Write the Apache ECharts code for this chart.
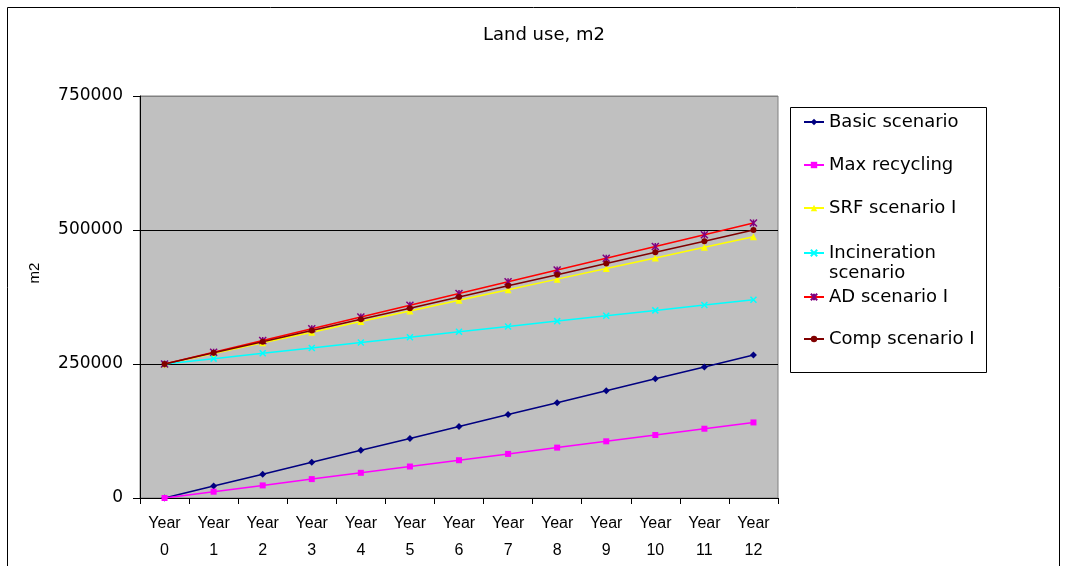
<!DOCTYPE html>
<html>
<head>
<meta charset="utf-8">
<script src="https://cdn.jsdelivr.net/npm/echarts@6/dist/echarts.min.js"></script>
<style>
  html, body { margin: 0; padding: 0; background: #fff; }
  #chart { width: 1068px; height: 566px; }
</style>
</head>
<body>
<div id="chart"></div>
<script>
// Land use per scenario, m2, over a 12-year horizon
const years = ['Year 0', 'Year 1', 'Year 2', 'Year 3', 'Year 4', 'Year 5', 'Year 6',
               'Year 7', 'Year 8', 'Year 9', 'Year 10', 'Year 11', 'Year 12'];

const basicScenario = [0, 22230, 44460, 66690, 88920, 111150, 133380, 155610, 177840, 200070, 222300, 244530, 266760];
const maxRecycling = [0, 11750, 23500, 35250, 47000, 58750, 70500, 82250, 94000, 105750, 117500, 129250, 141000];
const srfScenarioI = [250000, 269790, 289580, 309370, 329170, 348960, 368750, 388540, 408330, 428120, 447920, 467710, 487500];
const incinerationScenario = [250000, 260000, 270000, 280000, 290000, 300000, 310000, 320000, 330000, 340000, 350000, 360000, 370000];
const adScenarioI = [250000, 271920, 293830, 315750, 337670, 359580, 381500, 403420, 425330, 447250, 469170, 491080, 513000];
const compScenarioI = [250000, 270830, 291670, 312500, 333330, 354170, 375000, 395830, 416670, 437500, 458330, 479170, 500000];

const yTicks = [0, 250000, 500000, 750000];

const seriesNames = ['Basic scenario', 'Max recycling', 'SRF scenario I',
                     'Incineration scenario', 'AD scenario I', 'Comp scenario I'];

// marker shapes
const crossPath = 'path://M0,0L10,10M10,0L0,10';
const starPath = 'path://M0,0L10,10M10,0L0,10M5,0L5,10';

const styles = [
  { data: basicScenario, line: '#000080', marker: '#000080', symbol: 'diamond', size: 7, stroke: false },
  { data: maxRecycling, line: '#FF00FF', marker: '#FF00FF', symbol: 'rect', size: 6, stroke: false },
  { data: srfScenarioI, line: '#FFFF00', marker: '#FFFF00', symbol: 'triangle', size: 7, stroke: false },
  { data: incinerationScenario, line: '#00FFFF', marker: '#00FFFF', symbol: crossPath, size: 6, stroke: true },
  { data: adScenarioI, line: '#FF0000', marker: '#800080', symbol: starPath, size: 7, stroke: true },
  { data: compScenarioI, line: '#800000', marker: '#800000', symbol: 'circle', size: 6, stroke: false }
];

const series = styles.map((s, i) => ({
  name: seriesNames[i],
  type: 'line',
  data: s.data,
  symbol: s.symbol,
  symbolSize: s.size,
  showAllSymbol: true,
  lineStyle: { color: s.line, width: 1.5 },
  itemStyle: s.stroke
    ? { color: s.marker, borderColor: s.marker, borderWidth: 1.5 }
    : { color: s.marker, borderWidth: 0 },
  emphasis: { disabled: true },
  z: 3 + i
}));

// one legend entry per series, stacked inside the legend frame
const legendCenters = [122, 165, 208, 253, 297, 339];
const legends = seriesNames.map((name, i) => {
  const twoLine = name === 'Incineration scenario';
  return {
    show: true,
    orient: 'vertical',
    left: 803,
    // a blank first line keeps the marker level with "Incineration"
    top: twoLine ? legendCenters[i] - 30 : legendCenters[i] - 10,
    padding: 0,
    itemWidth: 20,
    itemHeight: 8,
    selectedMode: false,
    data: [name],
    formatter: twoLine ? '\u00a0\nIncineration\nscenario' : '{name}',
    textStyle: {
      fontFamily: 'DejaVu Sans',
      fontSize: 18,
      lineHeight: 20,
      color: '#000'
    }
  };
});

const chart = echarts.init(document.getElementById('chart'), null, { renderer: 'canvas' });

chart.setOption({
  animation: false,
  backgroundColor: '#fff',
  title: {
    text: 'Land use, m2',
    left: 483,
    top: 24,
    padding: 0,
    textStyle: { fontFamily: 'DejaVu Sans', fontSize: 18, lineHeight: 22, fontWeight: 'normal', color: '#000' }
  },
  legend: legends,
  grid: {
    left: 140, top: 96, width: 638, height: 402,
    show: true, backgroundColor: '#C0C0C0', borderColor: '#808080', borderWidth: 1
  },
  xAxis: {
    type: 'category',
    data: years,
    boundaryGap: true,
    axisLine: { lineStyle: { color: '#000', width: 1 } },
    axisTick: { show: true, length: 6, inside: false, lineStyle: { color: '#000' } },
    splitLine: { show: false },
    axisLabel: {
      interval: 0,
      margin: 12,
      fontFamily: 'Liberation Sans',
      fontSize: 16,
      lineHeight: 27,
      color: '#000',
      formatter: v => v.replace(' ', '\n')
    }
  },
  yAxis: {
    type: 'value',
    min: yTicks[0],
    max: yTicks[yTicks.length - 1],
    interval: yTicks[1] - yTicks[0],
    axisLine: { show: true, lineStyle: { color: '#000', width: 1 } },
    axisTick: { show: true, length: 7, lineStyle: { color: '#000' } },
    splitLine: { show: true, lineStyle: { color: ['#000', '#000', '#000', '#808080'], width: 1 } },
    axisLabel: {
      margin: 17,
      fontFamily: 'DejaVu Sans',
      fontSize: 17,
      color: '#000',
      formatter: v => String(v)
    }
  },
  graphic: [
    {
      type: 'rect',
      shape: { x: 7.5, y: 7.5, width: 1052, height: 600 },
      style: { fill: null, stroke: '#000', lineWidth: 1 },
      silent: true, z: -1
    },
    {
      type: 'rect',
      shape: { x: 790.5, y: 107.5, width: 196, height: 265 },
      style: { fill: '#fff', stroke: '#000', lineWidth: 1 },
      silent: true, z: -1
    },
    {
      type: 'text',
      x: 35, y: 273,
      rotation: Math.PI / 2,
      style: {
        text: 'm2',
        fontFamily: 'Liberation Sans',
        fontSize: 15,
        fill: '#000',
        align: 'center',
        verticalAlign: 'middle'
      },
      silent: true
    }
  ],
  series: series
});
</script>
</body>
</html>
